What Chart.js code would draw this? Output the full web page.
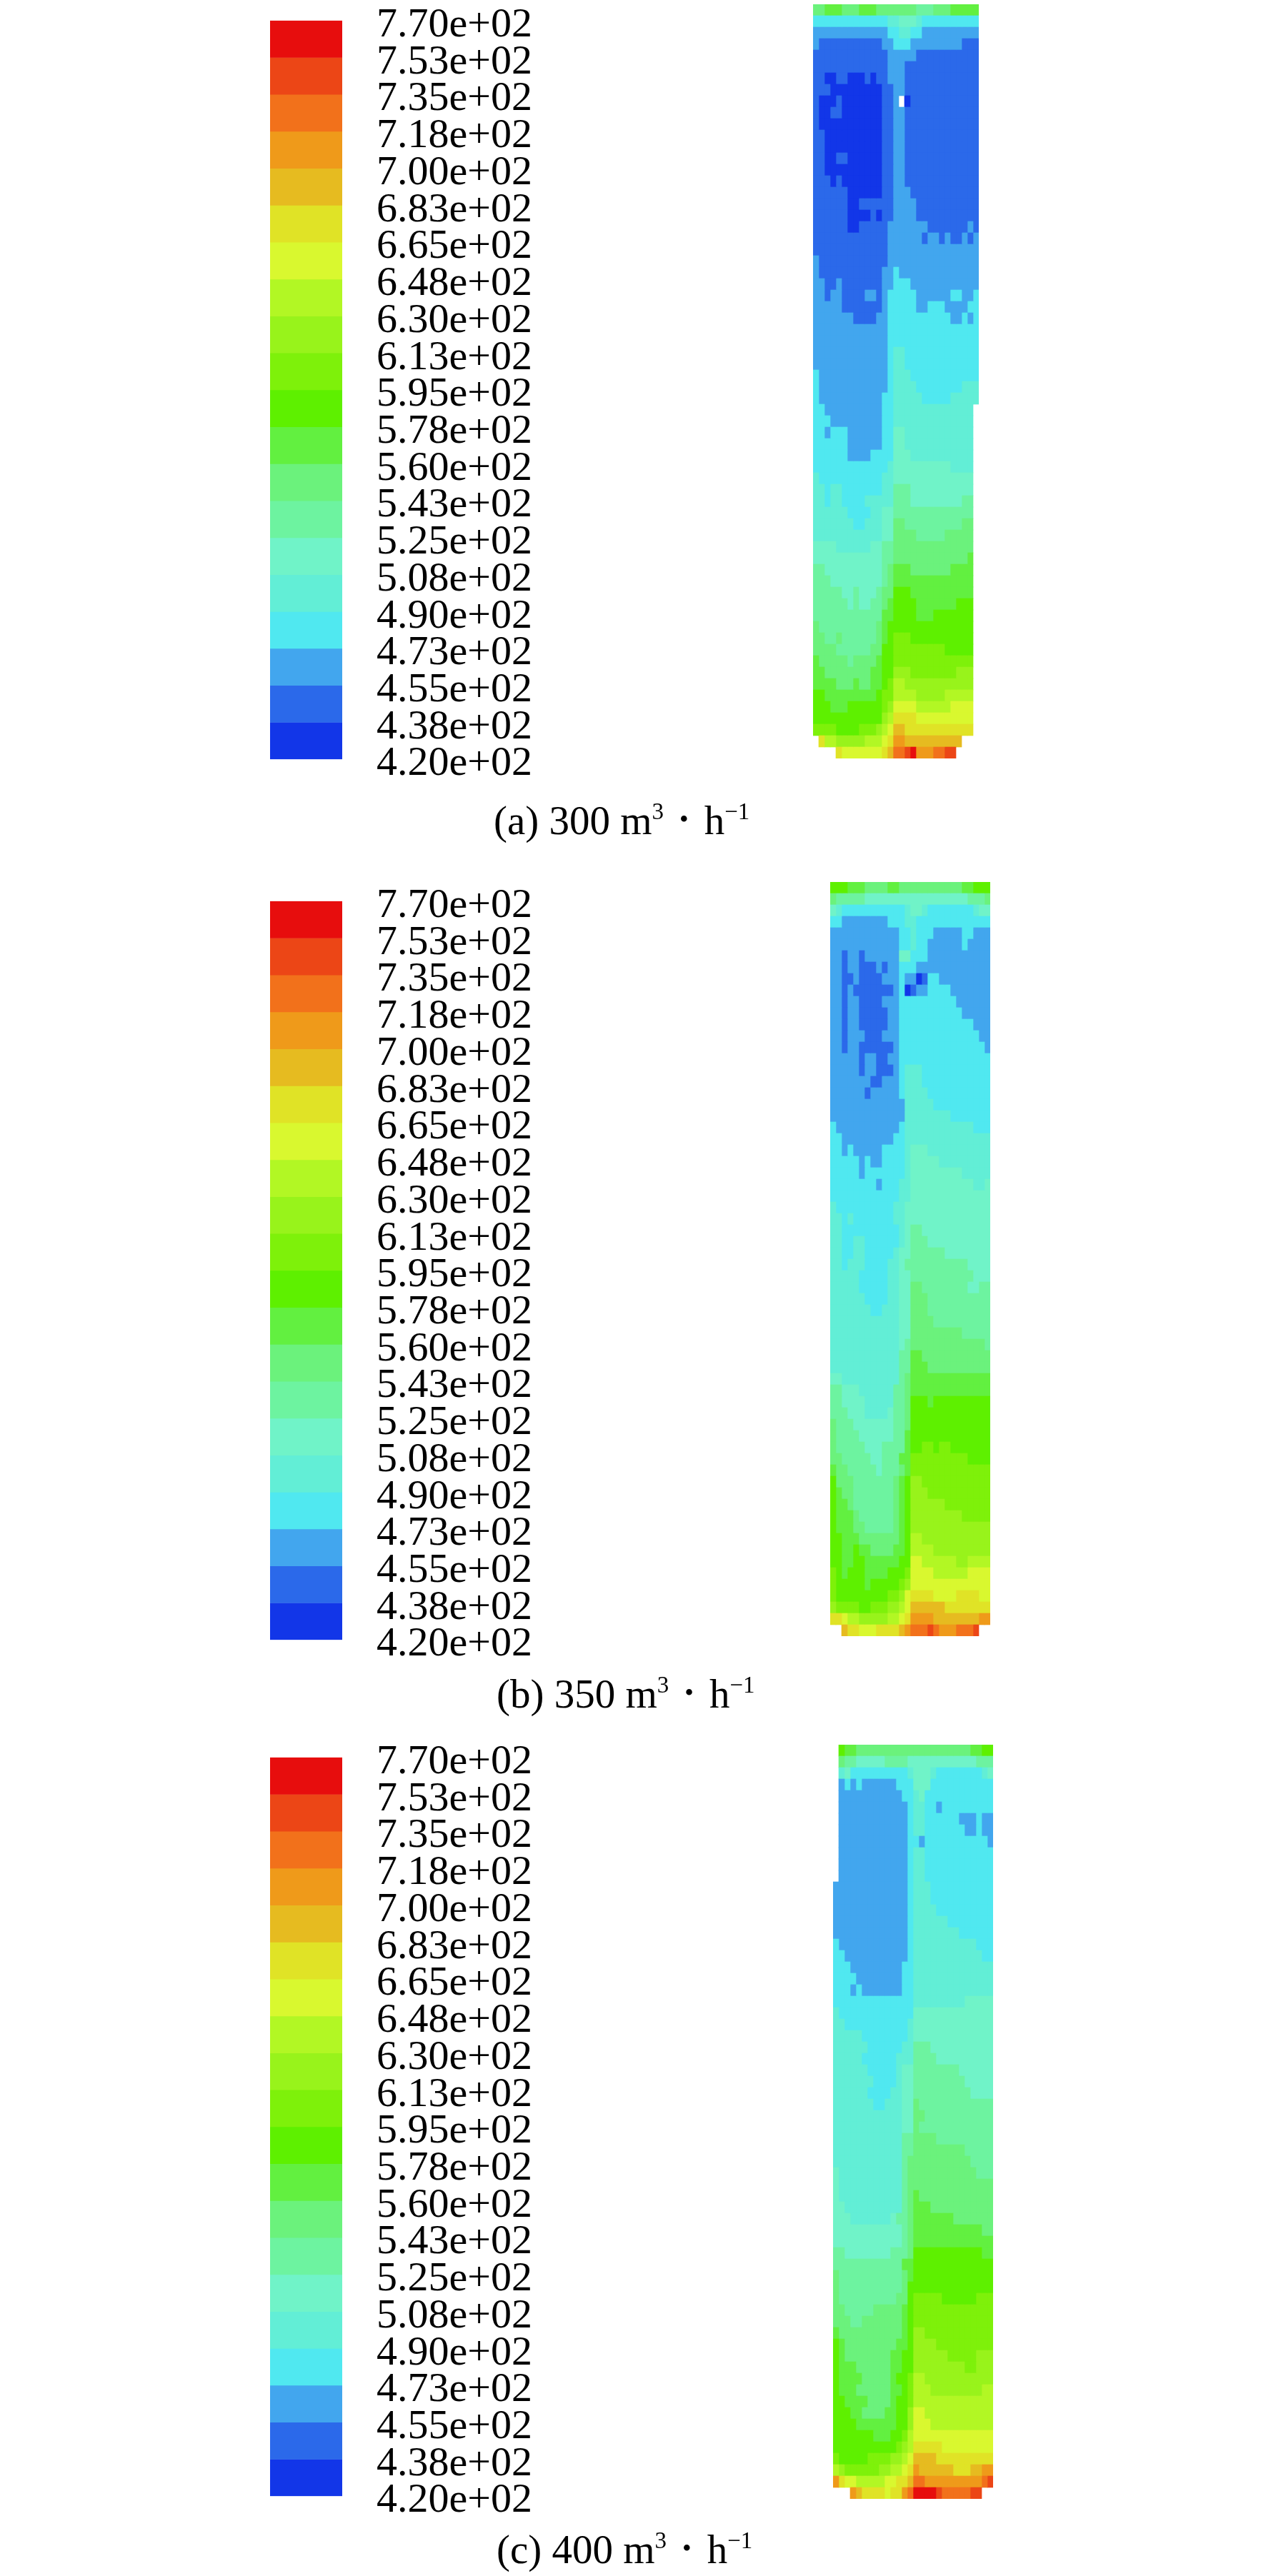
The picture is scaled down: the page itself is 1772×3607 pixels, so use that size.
<!DOCTYPE html>
<html>
<head>
<meta charset="utf-8">
<title>Temperature contours</title>
<script src="https://cdn.jsdelivr.net/npm/chart.js@4"></script>
<style>
body { margin: 0; background: #fff; width: 1772px; height: 3607px; position: relative; overflow: hidden; }
canvas { position: absolute; display: block; }
.caption { position: absolute; font: 57px/66px "Liberation Serif", serif; color: #000; white-space: pre; }
.caption sup { font-size: 33px; line-height: 0; vertical-align: 21px; }
.caption .dot { font-size: 36px; line-height: 0; vertical-align: 9px; margin: 0 22px; }
</style>
</head>
<body>
<canvas id="bar300"></canvas><canvas id="cyl300"></canvas>
<canvas id="bar350"></canvas><canvas id="cyl350"></canvas>
<canvas id="bar400"></canvas><canvas id="cyl400"></canvas>
<div class="caption" style="left:691px;top:1116px">(a) 300 m<sup>3</sup><span class="dot">•</span>h<sup>−1</sup></div>
<div class="caption" style="left:695px;top:2339px">(b) 350 m<sup>3</sup><span class="dot">•</span>h<sup>−1</sup></div>
<div class="caption" style="left:695px;top:3537px">(c) 400 m<sup>3</sup><span class="dot">•</span>h<sup>−1</sup></div>
<script>
// band edges of the colour scale, top to bottom
const bandEdges = [770, 752.5, 735, 717.5, 700, 682.5, 665, 647.5, 630, 612.5, 595, 577.5, 560, 542.5, 525, 507.5, 490, 472.5, 455, 437.5, 420];
const tickLabels = ['7.70e+02', '7.53e+02', '7.35e+02', '7.18e+02', '7.00e+02', '6.83e+02', '6.65e+02', '6.48e+02', '6.30e+02', '6.13e+02', '5.95e+02', '5.78e+02', '5.60e+02', '5.43e+02', '5.25e+02', '5.08e+02', '4.90e+02', '4.73e+02', '4.55e+02', '4.38e+02', '4.20e+02'];
const bandColors = ['#e70d0d', '#ec4616', '#f2711b', '#ef9a1a', '#e6bb20', '#e0e326', '#d9f82f', '#b2f724', '#98f31b', '#7ef10a', '#5ef000', '#62f040', '#6bf27c', '#6df3a0', '#70f3c8', '#62eed6', '#50e8f0', '#42a6ee', '#2b69ea', '#1236e8'];
// a = coldest band (420-437.5) ... t = hottest band, '.' = no surface
const bandCodes = 'tsrqponmlkjihgfedcba';

const rows300 = [
  'hhiiihhhiiihhhhhhhggghhhiiiii',
  'dddddddddddddeefffedddddddddd',
  'cccccccccccccddeeddcccccccccc',
  'cbbbbbbbbbbbccdddcccccccccbbb',
  'bbbbbbbbbbbbbcccccbbbbbbbbbbb',
  'bbbbbbbbbbbbbcccbbbbbbbbbbbbb',
  'bbaabbaaababbcccbbbbbbbbbbbbb',
  'bbbaaaaaaaaabbccbbbbbbbbbbbbb',
  'baaabaaaaaaabbc.abbbbbbbbbbbb',
  'baabbaaaaaaabbccbbbbbbbbbbbbb',
  'baaaaaaaaaaabbccbbbbbbbbbbbbb',
  'bbaaaaaaaaaabbccbbbbbbbbbbbbb',
  'bbaaaaaaaaaabbccbbbbbbbbbbbbb',
  'bbaabbaaaaaabbccbbbbbbbbbbbbb',
  'bbaaaaaaaaaabbccbbbbbbbbbbbbb',
  'bbbabaaaaaaabbccbbbbbbbbbbbbb',
  'bbbbbbaaaaaabbcccbbbbbbbbbbbb',
  'bbbbbbaabbbbbbccccbbbbbbbbbbb',
  'bbbbbbaaaababbccccbbbbbbbbbbb',
  'bbbbbbaabbbbbcccccccbbbbbbbcb',
  'bbbbbbbbbbbbbccccccbccbcbbcbc',
  'bbbbbbbbbbbbbcccccccccccccccc',
  'cbbbbbbbbbbbbcccccccccccccccc',
  'cbbbbbbbbbbbccdcccccccccccccc',
  'ccbbcbbbbbbbccdddcccccccccccc',
  'ccbccbbbbccbcdddddccccccddccd',
  'cccccbbbbbbbcdddddccdddccccdd',
  'cccccccbbbbccdddddddddddccdcd',
  'cccccccccccccdddddddddddddddd',
  'cccccccccccccdddddddddddddddd',
  'cccccccccccccdeeddddddddddddd',
  'cccccccccccccdeeddddddddddddd',
  'dccccccccccccdeeedddddddddddd',
  'dccccccccccccdeeeeddddddddeee',
  'dcccccccccccddeeeeedddddeeeee',
  'ddccccccccccddeeeeeeeeeeeeee',
  'dddcccccccccddeeeeeeeeeeeeee',
  'ddcdddccccccddffeeeeeeeeeeee',
  'ddddddccccccddffeeeeeeeeeeee',
  'ddddddccccddddfffeeeeeeeeeee',
  'dddddddddddddeffffffffffeeee',
  'edddddddddddeeffffffffffffff',
  'eedeedddddddeegggfffffffffff',
  'eedeeddddeeeeegggfffffffffgg',
  'eeeeeeddddeeffgggggggggggggg',
  'eeeeeeeddeeeffhhgggggggggghh',
  'eeeeeeeeeeeeffhhhhggggghhhhh',
  'ffffeeeeeeffgghhhhhhhhhhhhhh',
  'ffffffffffffgghhhhhhhhhhhhhi',
  'ggffffffffffghiiihhhhhhhiiii',
  'gggfffffffffghiiiiiiiiiiiiii',
  'gggggffgfffghhjjjiiiiiiiiiii',
  'ggggggfgffgghijjjjiiiiiiijjj',
  'ggggggggggggiijjjjiiijjjjjjj',
  'hgggggggggghijjjjjjjjjjjjjjj',
  'hhgghgggggghijkkkjjjjjjjjjjj',
  'hhhhgggggghhjjkkkkkkkkkjjjjj',
  'ihhhhhghhhhijjkkkkkkkkkkkkkk',
  'iihhhhhhhhiijjlllkkkkkkkklll',
  'iiiihhhihhiijkmmllllllllllll',
  'jjiiiiiiiiijkkmmmmlllllmmmmm',
  'jjjiiijjjjjjklnnnnmmmmmmnnnn',
  'jjjjjjjjjjjjlmoooonnnnnnnnnn',
  'kkkkjjjjkkklmnppoooooooooooo',
  '.ommlllllmmmnoqqpppppppppp',
  '....onnnnnnnoprrstqqqrrss'
];

const rows350 = [
  'jjjiiihhhhiihhhhhhhhhhhiijjj',
  'hgggggffffffffffffffffffgggh',
  'fedddddddddddeffeddddddddeff',
  'ddccccccccdddeeddddddddddddd',
  'ccccccccccccddedddcccccddccc',
  'ccccccccccccddeddccccccdcccc',
  'ccbccbccccccffdddccccccccccc',
  'ccbccbbbcbccdddccccccccccccc',
  'ccbbcbbbbcccdccabddccccccccc',
  'ccbcbbbbbbbcdabccddddccccccc',
  'ccbccbbbbcccddddddddddcccccc',
  'ccbccbbbbbccdddddddddddccccc',
  'ccbccbbbbbccdddddddddddddccc',
  'ccbcccbbbcccddddddddddddddcc',
  'ccbccbbbbbbcdddddddddddddddc',
  'cccccbccbbccdddddddddddddddd',
  'cccccbccbbbcdeeedddddddddddd',
  'cccccccbbcccdeeedddddddddddd',
  'ccccccbcccccdeeeeddddddddddd',
  'ccccccccccccceeeeedddddddddd',
  'ccccccccccccceeeeeeeeddddddd',
  'dcccccccccccdeeeeeeeeeeeeddd',
  'ddcccccccccddeeeeeeeeeeeeeee',
  'ddcdcccccddddefffeeeeeeeeeee',
  'dddddcdccddddefffffeeeeeeeee',
  'dddddcdddddddefffffffffeeeee',
  'ddddddddcdddeefffffffffffeef',
  'ddddddddddddeeffffffffffffff',
  'eddddddddddeefffffffffffffff',
  'eededddddddeefffffffffffffff',
  'eeddddddddddefggffffffffffff',
  'eeddeeddddddefgggfffffffffff',
  'eeddeedddddeffggggggffffffff',
  'eedeeeddddeefgggggggggggfffff',
  'eeeeedddddeeffgggggggggggfff',
  'eeeeedddddeeffhhggggggggffgg',
  'eeeeeeddddeeffhhhggggggggggg',
  'eeeeeeeddeeeffhhhggggggggggg',
  'eeeeeeeeeeeeffhhhhgggggggggg',
  'eeeeeeeeeeeeffhhhhhhhhhggggg',
  'eeeeeeeeeeeefghhhhhhhhhhhhhg',
  'eeeeeeeeeeeeggiihhhhhhhhhhhh',
  'eeeeeeeeeeeeggiiihhhhhhhhhhh',
  'ffeeeeeeeeeeghiiiiiiiiiiiiii',
  'ggfffeeeeeegghiiiiiiiiiiiiii',
  'ggffffeeeeegghjjjijjjjjjjjjj',
  'gggfffeeeefgghjjjjjjjjjjjjjj',
  'hgggfffffffgghjjjjjjjjjjjjjj',
  'hggggffffffggijjjjjjjjjjjjjj',
  'hgggggfffggggijjkkjkkjjjjjjj',
  'hhgggggffgggiikkkkkkkkkkjjjj',
  'ihhgggggfggghikkkkkkkkkkkkkk',
  'jhhhggggggghijllkkkkkkkkkkkk',
  'jihhggggggghijlllkkkkkkkkkkk',
  'jiihggggggghijllllllkkkkkkkk',
  'jiiihgggggghijlllllllllkkkkk',
  'jiiihhggggghijllllllllllllll',
  'jjiiihhhhhhhijmmllllllllllll',
  'jjiijiihhhhiijmmmmllllllllll',
  'jjiijjiiiiiijjnnmmmmmmllmmmm',
  'kjijjjiiiijjjknnnnmmmmmmnnnn',
  'kjjjjjijjjjjklnnnnnnnnnnnnnn',
  'kjjjjjjjjjkklnoooonnnnoooonn',
  'lkkkkjjkkkllmnppppppoooooooo',
  'oonmmlllllmmnoqqqqppppppppqq',
  '..poonnnoooopqrrrsrqqqrrrs'
];

const rows400 = [
  '.jiihhhhhhhhhhhhhhhhhhhhiijj',
  '.hggfffffggggffffffffffffggg',
  '.efddddddddddefffeddddddddef',
  '.cdcdccccccdddfffddddddddddd',
  '.cccccccccccddefdddddddddddd',
  '.ccccccccccccdeeddcddddddddd',
  '.ccccccccccccdeeddddddcccdcc',
  '.ccccccccccccdeedddddddccdcc',
  '.ccccccccccccddcdddddddddddc',
  '.ccccccccccccdeedddddddddddd',
  '.ccccccccccccdeedddddddddddd',
  '.ccccccccccccdeedddddddddddd',
  'cccccccccccccdeeeddddddddddd',
  'cccccccccccccdeeeddddddddddd',
  'cccccccccccccdeeeedddddddddd',
  'cccccccccccccdeeeeeedddddddd',
  'cccccccccccccdeeeeeeeedddddd',
  'dccccccccccccdeeeeeeeeeeeddd',
  'ddcccccccccccdeeeeeeeeeeeedd',
  'dddcccccccccddeeeeeeeeeeeeee',
  'ddddccccccccddeeeeeeeeeeeeee',
  'dddcdcccccccddeeeeeeeeeeeeee',
  'ddddddddddddddeeeeeeeeefffff',
  'edddddddddddddffffffffffffff',
  'eedddddddddddeffffffffffffff',
  'eeeeeddddddddeffffffffffffff',
  'eeeeeeddddddeegggfffffffffff',
  'eeeeeddddddeeeggggffffffffff',
  'eeeeeedddddeffggggggggffffff',
  'eeeeeeeddddeffgggggggggfffff',
  'eeeeeeddddeeffggggggggggffff',
  'eeeeeeeddeeeffhggggggggggggg',
  'eeeeeeeeeeeeffhhgggggggggggg',
  'eeeeeeeeeeeeffhggggggggggggg',
  'eeeeeeeeeeeegghhhhgggggggggg',
  'eeeeeeeeeeeegghhhhhhhhhggggg',
  'eeeeeeeeeeeeghhhhhhhhhhhgggg',
  'feeeeeeeeeeeghhhhhhhhhhhhggg',
  'feeeeeeeeeeeghhhhhhhhhhhhhhh',
  'feeeeeeeeeeeghihhhhhhhhhhhhh',
  'ffeeeeeeeeeeghiiihhhhhhhhhhh',
  'fffeeeeeeefgghiiiiiiihhhhhhh',
  'ffffffffffffghiiiiiiiiiiiihh',
  'ffffffffffffghiiiiiiiiiiiiii',
  'ggffffffffggghjjjjjjjjjjjjii',
  'ggggggggggggiijjjjjjjjjjjjjj',
  'hggggggggggghijjjjjjjjjjjjjj',
  'hggggggggggghjjjjjjjjjjjjjjj',
  'hgggggggggghhjkkkkkjjjjjjkkk',
  'hhggggghhhhhijkkkkkkkkkkkkkk',
  'hhhgghhhhhhhijkkkkkkkkkkkkkk',
  'ihhhhhhhhhhhijllkkkkkkkkkkkk',
  'jihhhhhhhhhiijllllkkkkkkkkkk',
  'jihhhhhhhhiijjllllllkkkkklll',
  'jiiihhhhhhiijjlllllllllkklll',
  'jiiiihhhhhijjkmmllllllllllll',
  'jiiihhhhhhiijkmmmlllllllllmm',
  'jjiiiihhhhijjkmmmmmmmmmmmmmm',
  'jjjiihhhhiijjlnnmmmmmmmmmmmm',
  'jjjjiiiiiiijjlnnnmmmmmmmmmmm',
  'jjjjjjjiiijjkmnnnnnnnnnnnnnn',
  'jjjjjjjjjjjklmooooonnnnnnnnn',
  'kjjjjjkkkkllmnppppoooooooooo',
  'mlkkkkkkllmmnoqppppppoooppqq',
  'qonnmmmmmnnooprrqqqqqqqqqqrs',
  '...qpoooonooqrttttsrrrrrss'
];

const cellW = 8;
const cellH = 16;
// half a label line plus the tick padding, chart.js keeps this free above and below the plot
const labelPad = 83;

function placeCanvas(id, left, top, width, height) {
  const el = document.getElementById(id);
  el.style.left = left + 'px';
  el.style.top = top + 'px';
  el.width = width;
  el.height = height;
  return el;
}

function drawColorbar(id, top) {
  const el = placeCanvas(id, 378, top - labelPad, 420, 1034 + labelPad * 2);
  new Chart(el, {
    type: 'bar',
    data: {
      labels: ['bands'],
      datasets: bandColors.map((color, i) => ({
        data: [[bandEdges[i + 1], bandEdges[i]]],
        backgroundColor: color,
        barPercentage: 1,
        categoryPercentage: 1,
        grouped: false
      }))
    },
    options: {
      responsive: false,
      animation: false,
      devicePixelRatio: 1,
      plugins: { legend: { display: false }, tooltip: { enabled: false } },
      scales: {
        x: { display: false },
        y: {
          position: 'right',
          min: 420,
          max: 770,
          border: { display: false },
          grid: { display: false, drawTicks: false },
          afterBuildTicks: scale => { scale.ticks = bandEdges.map(v => ({ value: v })); },
          afterFit: scale => { scale.width = 319; },
          ticks: {
            autoSkip: false,
            padding: 48,
            labelOffset: 7,
            color: '#000',
            font: { family: '"Liberation Serif", serif', size: 58 },
            callback: v => tickLabels[bandEdges.indexOf(v)]
          }
        }
      }
    }
  });
}

function drawCylinder(id, left, top, rows, columns) {
  const el = placeCanvas(id, left, top, columns * cellW, rows.length * cellH);
  const colOf = code => bandColors[bandCodes.indexOf(code)];
  const datasets = [];
  for (let c = 0; c < columns; c++) {
    datasets.push({
      data: rows.map(row => (row[c] && row[c] !== '.') ? [c, c + 1] : null),
      backgroundColor: rows.map(row => colOf(row[c])),
      barPercentage: 1,
      categoryPercentage: 1,
      grouped: false
    });
  }
  new Chart(el, {
    type: 'bar',
    data: { labels: rows.map((r, i) => i), datasets: datasets },
    options: {
      indexAxis: 'y',
      responsive: false,
      animation: false,
      devicePixelRatio: 1,
      plugins: { legend: { display: false }, tooltip: { enabled: false } },
      scales: {
        x: { display: false, min: 0, max: columns },
        y: { display: false }
      }
    }
  });
}

drawColorbar('bar300', 29);
drawColorbar('bar350', 1262);
drawColorbar('bar400', 2461);

drawCylinder('cyl300', 1138, 6, rows300, 29);
drawCylinder('cyl350', 1162, 1235, rows350, 28);
drawCylinder('cyl400', 1166, 2443, rows400, 28);
</script>
</body>
</html>
